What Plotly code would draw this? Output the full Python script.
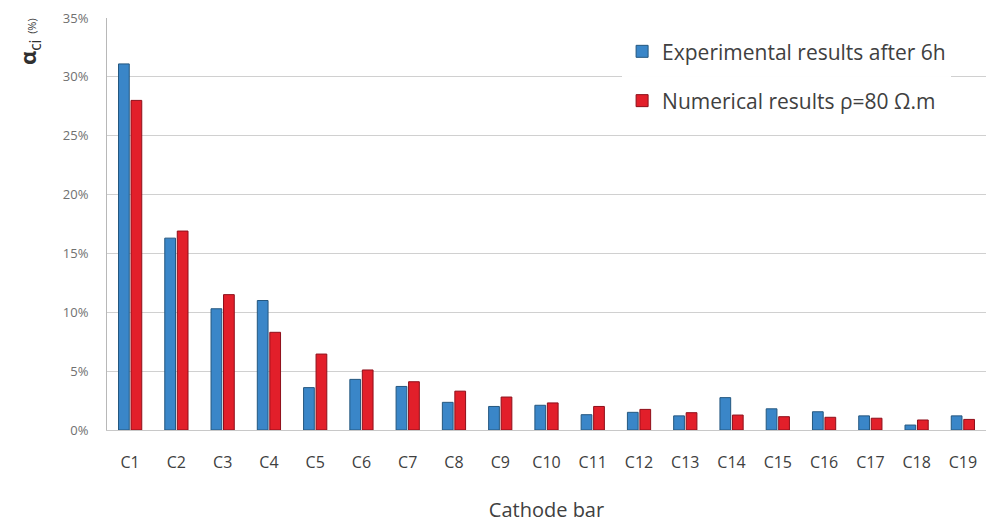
import plotly.graph_objects as go

# Cathode bars and the share of current through each one
cathodes = [f"C{i}" for i in range(1, 20)]
experimental = [31.1, 16.3, 10.3, 11.0, 3.6, 4.3, 3.7, 2.35, 2.0, 2.1,
                1.3, 1.5, 1.2, 2.75, 1.8, 1.55, 1.2, 0.42, 1.2]
numerical = [28.0, 16.9, 11.5, 8.3, 6.45, 5.1, 4.1, 3.3, 2.8, 2.3,
             2.0, 1.75, 1.47, 1.27, 1.13, 1.08, 1.0, 0.85, 0.9]
y_ticks = [0, 5, 10, 15, 20, 25, 30, 35]
y_tick_labels = [f"{v}%" for v in y_ticks]

FONT = "'Open Sans', Lato, sans-serif"

fig = go.Figure()
fig.add_trace(go.Bar(
    x=cathodes, y=experimental, name="Experimental results after 6h",
    legendgroup="exp",
    marker=dict(color="#3A86C8", line=dict(color="#24577F", width=1)),
))
fig.add_trace(go.Bar(
    x=cathodes, y=numerical, name="Numerical results \u03c1=80 \u03a9.m",
    legendgroup="num",
    marker=dict(color="#E21F2A", line=dict(color="#8E0F1A", width=1)),
))

fig.update_layout(
    width=990, height=524,
    margin=dict(l=107, r=4, t=18, b=94),
    paper_bgcolor="white", plot_bgcolor="white",
    barmode="group", bargap=0.46, bargroupgap=0.14,
    font=dict(family=FONT, color="#404040"),
    showlegend=True,
    legend=dict(
        x=0.586, y=0.968, xanchor="left", yanchor="top",
        bgcolor="rgba(255,255,255,0.97)",
        font=dict(size=21, color="#404040"),
        tracegroupgap=19, itemwidth=30,
    ),
    xaxis=dict(
        showgrid=False, showline=True, linecolor="#C8C8C8", linewidth=1,
        tickfont=dict(size=16, color="#404040"),
        ticks="", ticklabelstandoff=18,
        title=dict(text="Cathode bar", font=dict(size=20, color="#404040"), standoff=30),
    ),
    yaxis=dict(
        range=[0, 35], tickvals=y_ticks, ticktext=y_tick_labels,
        showgrid=True, gridcolor="#D0D0D0", gridwidth=1,
        showline=True, linecolor="#B8B8B8", linewidth=1,
        zeroline=False,
        tickfont=dict(size=13, color="#707070"),
        ticks="", ticklabelstandoff=15,
    ),
)

# Rotated y-axis label: alpha_ci (%)
fig.add_annotation(
    xref="paper", yref="paper", x=-0.088, y=1.005,
    xanchor="center", yanchor="top", textangle=-90, showarrow=False,
    text="<b>\u03b1</b><sub>ci</sub> <span style='font-size:11px'>(%)</span>",
    font=dict(size=22, color="#303030", family=FONT),
)

fig.write_html("out.html")
